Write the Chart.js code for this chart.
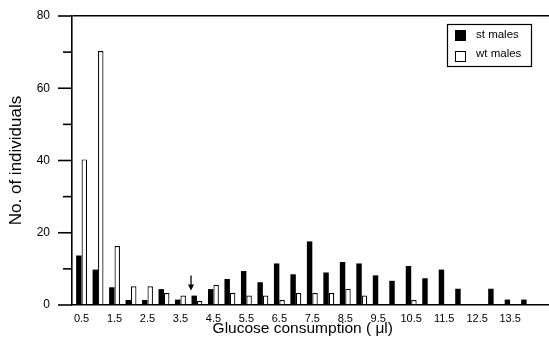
<!DOCTYPE html>
<html>
<head>
<meta charset="utf-8">
<script src="https://cdn.jsdelivr.net/npm/chart.js@4.4.1/dist/chart.umd.min.js"></script>
<style>
  html, body { margin: 0; padding: 0; background: #fff; }
  #wrap { width: 549px; height: 342px; }
</style>
</head>
<body>
<div id="wrap"><canvas id="c" width="549" height="342"></canvas></div>
<script>
// ---- data ----
const categories = [0.5, 1, 1.5, 2, 2.5, 3, 3.5, 4, 4.5, 5, 5.5, 6, 6.5, 7, 7.5, 8, 8.5, 9, 9.5, 10, 10.5, 11, 11.5, 12, 12.5, 13, 13.5, 14];
const stMales = [13.7, 9.8, 4.9, 1.4, 1.4, 4.4, 1.5, 2.6, 4.4, 7.2, 9.4, 6.3, 11.5, 8.5, 17.6, 9.0, 11.9, 11.5, 8.2, 6.7, 10.8, 7.4, 9.8, 4.5, null, 4.5, 1.5, 1.5];
const wtMales = [40.3, 70.3, 16.3, 5.2, 5.2, 3.3, 2.6, 1.1, 5.6, 3.4, 2.6, 2.6, 1.4, 3.3, 3.3, 3.3, 4.5, 2.6, null, null, 1.4, null, null, null, null, null, null, null];
const xTickLabels = [0.5, 1.5, 2.5, 3.5, 4.5, 5.5, 6.5, 7.5, 8.5, 9.5, 10.5, 11.5, 12.5, 13.5];
const yTickLabels = [0, 20, 40, 60, 80];
const yMinorTicks = [10, 30, 50, 70];
const seriesNames = ['st males', 'wt males'];
const arrowX = 3.82;            // position of the arrow (x value)
const arrowFromTo = [8.2, 4.0]; // arrow extent (y values)

const FONT = "'Liberation Sans', Arial, Helvetica, sans-serif";

const toXY = arr => categories.map((c, i) => ({ x: c, y: arr[i] }));

const extrasPlugin = {
  id: 'extras',
  afterDraw(chart) {
    const ctx = chart.ctx;
    const xs = chart.scales.x, ys = chart.scales.y;
    const ca = chart.chartArea;
    ctx.save();
    ctx.strokeStyle = '#000';
    ctx.lineWidth = 1.6;
    // major y ticks (outside, long)
    yTickLabels.forEach(v => {
      const py = ys.getPixelForValue(v);
      ctx.beginPath();
      ctx.moveTo(ca.left - 14, py);
      ctx.lineTo(ca.left, py);
      ctx.stroke();
    });
    // minor y ticks (outside, short)
    yMinorTicks.forEach(v => {
      const py = ys.getPixelForValue(v);
      ctx.beginPath();
      ctx.moveTo(ca.left - 9, py);
      ctx.lineTo(ca.left, py);
      ctx.stroke();
    });
    // arrow
    const ax = xs.getPixelForValue(arrowX);
    const ay0 = ys.getPixelForValue(arrowFromTo[0]);
    const ay1 = ys.getPixelForValue(arrowFromTo[1]);
    ctx.lineWidth = 1.3;
    ctx.beginPath();
    ctx.moveTo(ax, ay0);
    ctx.lineTo(ax, ay1 - 5);
    ctx.stroke();
    ctx.fillStyle = '#000';
    ctx.beginPath();
    ctx.moveTo(ax - 3, ay1 - 6);
    ctx.lineTo(ax + 3, ay1 - 6);
    ctx.lineTo(ax, ay1);
    ctx.closePath();
    ctx.fill();
    // legend box
    const bx = ca.right - 102, by = ca.top + 8, bw = 84, bh = 42;
    ctx.lineWidth = 1.2;
    ctx.strokeStyle = '#000';
    ctx.strokeRect(bx + 0.5, by + 0.5, bw, bh);
    ctx.font = '11.5px ' + FONT;
    ctx.textBaseline = 'middle';
    ctx.textAlign = 'left';
    chart.data.datasets.forEach((ds, i) => {
      const sy = by + 6 + i * 20;
      if (i === 0) {
        ctx.fillStyle = '#000';
        ctx.fillRect(bx + 8, sy, 11, 11);
      } else {
        ctx.fillStyle = '#fff';
        ctx.fillRect(bx + 8.5, sy + 1.5, 10, 10);
        ctx.lineWidth = 1;
        ctx.strokeRect(bx + 8.5, sy + 1.5, 10, 10);
      }
      ctx.fillStyle = '#000';
      ctx.fillText(ds.label, bx + 29, sy + 5 + (i === 0 ? 0 : -1));
    });
    ctx.restore();
  }
};

new Chart(document.getElementById('c'), {
  type: 'bar',
  data: {
    datasets: [
      {
        label: seriesNames[0],
        data: toXY(stMales),
        backgroundColor: '#000',
        borderWidth: 0,
        categoryPercentage: 0.66,
        barPercentage: 1.0
      },
      {
        label: seriesNames[1],
        data: toXY(wtMales),
        backgroundColor: '#fff',
        borderColor: '#000',
        borderWidth: 1.2,
        categoryPercentage: 0.66,
        barPercentage: 1.0
      }
    ]
  },
  options: {
    responsive: false,
    animation: false,
    devicePixelRatio: 1,
    layout: { padding: { top: 16, right: 0, left: 0, bottom: 0 } },
    plugins: {
      legend: { display: false },
      tooltip: { enabled: false }
    },
    scales: {
      x: {
        type: 'linear',
        offset: false,
        min: 0.21,
        max: 14.68,
        afterBuildTicks: axis => { axis.ticks = xTickLabels.map(v => ({ value: v })); },
        afterFit: s => { s.height = 37; },
        grid: { display: false, drawTicks: false },
        border: { display: true, color: '#000', width: 1.6 },
        ticks: {
          autoSkip: false,
          maxRotation: 0,
          padding: 7,
          color: '#000',
          font: { family: FONT, size: 11 },
          callback: v => String(v)
        },
        title: {
          display: true,
          text: 'Glucose consumption ( \u03bcl)\u2003',
          color: '#000',
          font: { family: FONT, size: 15.5 },
          padding: { top: 0, bottom: 4 }
        }
      },
      y: {
        min: 0,
        max: 80,
        afterBuildTicks: axis => { axis.ticks = yTickLabels.map(v => ({ value: v })); },
        afterFit: s => { s.width = 72; },
        grid: {
          drawOnChartArea: true,
          color: c => (c.tick && c.tick.value === 80) ? '#000' : 'rgba(0,0,0,0)',
          tickColor: 'rgba(0,0,0,0)',
          tickLength: 14,
          lineWidth: 1.6
        },
        border: { display: true, color: '#000', width: 1.6 },
        ticks: {
          padding: 8,
          color: '#000',
          font: { family: FONT, size: 12 }
        },
        title: {
          display: true,
          text: 'No. of individuals',
          color: '#000',
          font: { family: FONT, size: 17 },
          padding: { top: 6, bottom: 0 }
        }
      }
    }
  },
  plugins: [extrasPlugin]
});
</script>
</body>
</html>
